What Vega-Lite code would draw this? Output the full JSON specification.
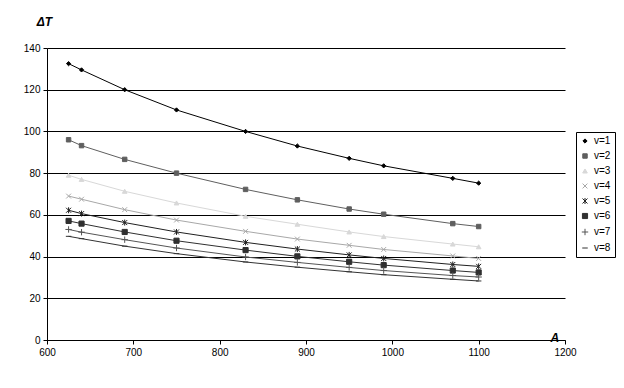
{
  "$schema": "https://vega.github.io/schema/vega-lite/v6.json",
  "autosize": {"type": "none"},
  "width": 518,
  "height": 292,
  "padding": {"left": 47, "top": 48, "right": 59, "bottom": 48},
  "background": "white",
  "config": {
    "font": "Liberation Sans",
    "view": {"stroke": null},
    "axis": {"labelFont": "Liberation Sans", "labelFontSize": 10, "labelColor": "black", "domainColor": "black", "tickColor": "black", "tickSize": 4, "gridColor": "black", "gridOpacity": 1, "gridWidth": 1},
    "legend": {"strokeColor": "black", "padding": 4, "fillColor": "white", "labelFontSize": 10, "labelFont": "Liberation Sans", "labelColor": "black", "rowPadding": 5, "symbolSize": 25, "symbolStrokeWidth": 1, "labelOffset": 4, "layout": {"right": {"anchor": "middle"}}}
  },
  "data": {"values": [
    {"v":"v=1","A":625,"dT":132.5},{"v":"v=1","A":640,"dT":129.5},{"v":"v=1","A":690,"dT":120},{"v":"v=1","A":750,"dT":110.3},{"v":"v=1","A":830,"dT":100},{"v":"v=1","A":890,"dT":93},{"v":"v=1","A":950,"dT":87.1},{"v":"v=1","A":990,"dT":83.5},{"v":"v=1","A":1070,"dT":77.5},{"v":"v=1","A":1100,"dT":75.2},
    {"v":"v=2","A":625,"dT":96},{"v":"v=2","A":640,"dT":93.2},{"v":"v=2","A":690,"dT":86.6},{"v":"v=2","A":750,"dT":80},{"v":"v=2","A":830,"dT":72.2},{"v":"v=2","A":890,"dT":67.2},{"v":"v=2","A":950,"dT":62.8},{"v":"v=2","A":990,"dT":60.3},{"v":"v=2","A":1070,"dT":55.8},{"v":"v=2","A":1100,"dT":54.4},
    {"v":"v=3","A":625,"dT":79},{"v":"v=3","A":640,"dT":77},{"v":"v=3","A":690,"dT":71.3},{"v":"v=3","A":750,"dT":65.7},{"v":"v=3","A":830,"dT":59.3},{"v":"v=3","A":890,"dT":55.5},{"v":"v=3","A":950,"dT":51.8},{"v":"v=3","A":990,"dT":49.6},{"v":"v=3","A":1070,"dT":46},{"v":"v=3","A":1100,"dT":44.7},
    {"v":"v=4","A":625,"dT":69},{"v":"v=4","A":640,"dT":67.5},{"v":"v=4","A":690,"dT":62.5},{"v":"v=4","A":750,"dT":57.5},{"v":"v=4","A":830,"dT":52.1},{"v":"v=4","A":890,"dT":48.4},{"v":"v=4","A":950,"dT":45.4},{"v":"v=4","A":990,"dT":43.4},{"v":"v=4","A":1070,"dT":40.3},{"v":"v=4","A":1100,"dT":39.1},
    {"v":"v=5","A":625,"dT":62.2},{"v":"v=5","A":640,"dT":60.6},{"v":"v=5","A":690,"dT":56.3},{"v":"v=5","A":750,"dT":51.8},{"v":"v=5","A":830,"dT":46.8},{"v":"v=5","A":890,"dT":43.6},{"v":"v=5","A":950,"dT":40.8},{"v":"v=5","A":990,"dT":39.1},{"v":"v=5","A":1070,"dT":36.2},{"v":"v=5","A":1100,"dT":35.3},
    {"v":"v=6","A":625,"dT":57.1},{"v":"v=6","A":640,"dT":55.8},{"v":"v=6","A":690,"dT":51.8},{"v":"v=6","A":750,"dT":47.6},{"v":"v=6","A":830,"dT":43.1},{"v":"v=6","A":890,"dT":40.1},{"v":"v=6","A":950,"dT":37.5},{"v":"v=6","A":990,"dT":35.9},{"v":"v=6","A":1070,"dT":33.3},{"v":"v=6","A":1100,"dT":32.4},
    {"v":"v=7","A":625,"dT":53},{"v":"v=7","A":640,"dT":51.7},{"v":"v=7","A":690,"dT":48.1},{"v":"v=7","A":750,"dT":44.1},{"v":"v=7","A":830,"dT":39.8},{"v":"v=7","A":890,"dT":37.2},{"v":"v=7","A":950,"dT":34.8},{"v":"v=7","A":990,"dT":33.3},{"v":"v=7","A":1070,"dT":30.9},{"v":"v=7","A":1100,"dT":30.2},
    {"v":"v=8","A":625,"dT":49.7},{"v":"v=8","A":640,"dT":48.6},{"v":"v=8","A":690,"dT":45},{"v":"v=8","A":750,"dT":41.4},{"v":"v=8","A":830,"dT":37.4},{"v":"v=8","A":890,"dT":34.9},{"v":"v=8","A":950,"dT":32.7},{"v":"v=8","A":990,"dT":31.3},{"v":"v=8","A":1070,"dT":29.1},{"v":"v=8","A":1100,"dT":28.3}
  ]},
  "encoding": {
    "x": {"field": "A", "type": "quantitative", "scale": {"domain": [600, 1200], "nice": false, "zero": false},
      "axis": {"values": [600,700,800,900,1000,1100,1200], "format": "d", "grid": false, "title": "A", "titleFont": "Liberation Sans", "titleFontSize": 12, "titleFontWeight": "bold", "titleFontStyle": "italic", "titleX": 503, "titleY": -3, "titleAlign": "left", "titleBaseline": "middle", "labelPadding": 3, "labelFlush": false}},
    "y": {"field": "dT", "type": "quantitative", "scale": {"domain": [0, 140], "nice": false},
      "axis": {"values": [0,20,40,60,80,100,120,140], "grid": true, "title": "ΔT", "titleFont": "Liberation Sans", "titleFontSize": 12, "titleFontWeight": "bold", "titleFontStyle": "italic", "titleAngle": 0, "titleX": -3, "titleY": -27, "titleAlign": "center", "titleBaseline": "middle", "labelPadding": 3}}
  },
  "layer": [
    {
      "mark": {"type": "line", "strokeWidth": 1},
      "encoding": {
        "stroke": {"field": "v", "type": "nominal",
          "scale": {"domain": ["v=1","v=2","v=3","v=4","v=5","v=6","v=7","v=8"], "range": ["#000000","#5f5f5f","#d8d8d8","#a8a8a8","#202020","#303030","#555555","#333333"]},
          "legend": {"orient": "right", "offset": 11, "title": null}}
      }
    },
    {
      "mark": {"type": "point", "filled": true, "opacity": 1, "strokeWidth": 1},
      "encoding": {
        "stroke": {"field": "v", "type": "nominal"},
        "fill": {"field": "v", "type": "nominal",
          "scale": {"domain": ["v=1","v=2","v=3","v=4","v=5","v=6","v=7","v=8"], "range": ["#000000","#5f5f5f","#d8d8d8","#a8a8a8","#202020","#303030","#555555","#333333"]},
          "legend": {"orient": "right", "offset": 11, "title": null}},
        "shape": {"field": "v", "type": "nominal",
          "scale": {"domain": ["v=1","v=2","v=3","v=4","v=5","v=6","v=7","v=8"], "range": ["diamond","square","triangle-up","M-1,-1L1,1M-1,1L1,-1","M-1,-1L1,1M-1,1L1,-1M0,-1.2L0,1.2","square","M-1.2,0L1.2,0M0,-1.2L0,1.2","M-1,0L1,0"]},
          "legend": {"orient": "right", "offset": 11, "title": null}},
        "size": {"field": "v", "type": "nominal",
          "scale": {"domain": ["v=1","v=2","v=3","v=4","v=5","v=6","v=7","v=8"], "range": [18,30,24,20,20,18,20,14]}, "legend": null}
      }
    }
  ]
}
